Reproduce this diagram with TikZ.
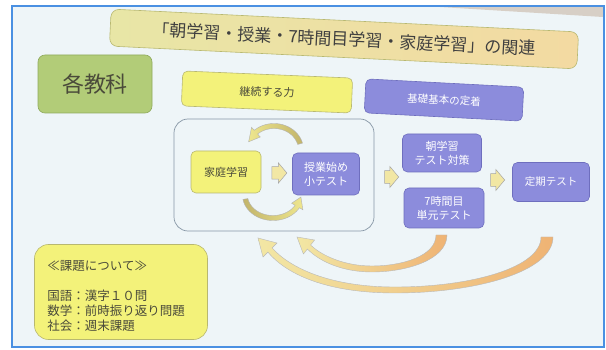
\documentclass[tikz,border=0pt]{standalone}
\usepackage{fontspec}
\setmainfont{Noto Sans CJK JP}
\usetikzlibrary{shapes.arrows,calc}
\definecolor{bgc}{HTML}{EEF5F8}
\definecolor{framec}{HTML}{4A90E2}
\definecolor{ylw}{HTML}{F3F27A}
\definecolor{ylwd}{HTML}{B8B870}
\definecolor{prp}{HTML}{8C8CDC}
\definecolor{prpd}{HTML}{6E6EBE}
\definecolor{grn}{HTML}{B2CC78}
\definecolor{grnd}{HTML}{8FAA5E}
\definecolor{ttlL}{HTML}{E8E6A6}
\definecolor{ttlR}{HTML}{F3DAA2}
\definecolor{txt}{HTML}{4A4A3A}
\definecolor{arrY}{HTML}{F2E7A4}
\definecolor{arrO}{HTML}{EFB374}
\definecolor{olvD}{HTML}{C2B46A}
\definecolor{olvL}{HTML}{EEE68E}
\definecolor{cycc}{HTML}{8797A6}
\newcommand\ArcArrow[8]{%
 \shadedraw[#8] plot[domain=#5:#6,samples=40] ({#1+(#3+2.5)*cos(\x)},{#2+(#4+2.5)*sin(\x)})
  -- ({#1+(#3+6.5)*cos(#6)},{#2+(#4+6.5)*sin(#6)})
  -- ({#1+#3*cos(#7)},{#2+#4*sin(#7)})
  -- ({#1+(#3-6.5)*cos(#6)},{#2+(#4-6.5)*sin(#6)})
  -- plot[domain=#6:#5,samples=40] ({#1+(#3-2.5)*cos(\x)},{#2+(#4-2.5)*sin(\x)})
  -- cycle;}
\begin{document}
\begin{tikzpicture}[x=1pt,y=-1pt,
  box/.style={rounded corners=5pt, draw, line width=0.6pt, align=center, inner sep=2pt},
  ybox/.style={box, fill=ylw, draw=ylwd, text=txt},
  pbox/.style={box, fill=prp, draw=prpd, text=white},
  blockarrow/.style={single arrow, draw=gray!70, fill=arrY, line width=0.5pt,
    minimum height=15pt, minimum width=20pt, single arrow head extend=4pt,
    single arrow tip angle=100, inner xsep=1pt, inner ysep=6pt},
  bigarrow/.style={left color=arrY, right color=arrO, draw=gray!55, line width=0.4pt},
  smallfont/.style={font=\fontsize{11}{14}\selectfont}
]
\useasboundingbox (0,0) rectangle (606,350);
\fill[white] (0,0) rectangle (606,350);
\fill[bgc] (12,6) rectangle (604,347);
\fill[gray!55!brown!50, opacity=0.7] (440,7) -- (603,7) -- (603,17) -- cycle;
\draw[framec, line width=1.5pt] (12,6) rectangle (604,347);

% title
\node[box, rotate=-2.8, left color=ttlL, right color=ttlR, draw=ylwd, text=black!75,
  rounded corners=8pt, minimum width=468pt, minimum height=37pt,
  font=\fontsize{17}{20}\selectfont] (title) at (344,39)
  {「朝学習・授業・7時間目学習・家庭学習」の関連};

\node[box, fill=grn, draw=grnd, text=txt, rounded corners=7pt, minimum width=114pt,
  minimum height=58pt, font=\fontsize{22}{26}\selectfont] (kyoka) at (95,84) {各教科};

\node[ybox, rotate=-2.4, minimum width=170pt, minimum height=35pt, smallfont] (keizoku) at (267,92) {継続する力};
\node[pbox, rotate=-3, minimum width=158pt, minimum height=34pt, font=\fontsize{10.5}{13}\selectfont] (kiso) at (444,100) {基礎基本の定着};

% cycle frame
\node[draw=cycc, line width=0.7pt, rounded corners=14pt, minimum width=200pt, minimum height=112pt] (cyc) at (274,175) {};

\node[ybox, minimum width=70pt, minimum height=42pt, smallfont] (katei) at (226,172) {家庭学習};
\node[pbox, minimum width=67pt, minimum height=42pt, smallfont] (jugyo) at (326,174) {授業始め\\小テスト};
\node[blockarrow] (a1) at ($(katei.east)!0.5!(jugyo.west)$) {};

\ArcArrow{274}{150}{27}{24}{345}{228}{200}{left color=olvL, right color=olvD, draw=gray!60, line width=0.4pt}
\ArcArrow{273}{195}{28}{23}{170}{30}{5}{left color=olvD, right color=olvL, draw=gray!60, line width=0.4pt}

\node[pbox, minimum width=79pt, minimum height=38pt, smallfont] (asa) at (442,153) {朝学習\\テスト対策};
\node[pbox, minimum width=80pt, minimum height=40pt, smallfont] (nana) at (444,208) {7時間目\\単元テスト};
\node[pbox, minimum width=77pt, minimum height=39pt, font=\fontsize{10.5}{13}\selectfont] (teiki) at (551,182) {定期テスト};

\node[blockarrow, minimum height=14pt, minimum width=21pt] (a2) at (389,177) {};
\node[blockarrow, minimum height=14pt, minimum width=21pt] (a3) at (495,180) {};

% big return arrows
\shadedraw[bigarrow] (541,237) .. controls (541,268) and (470,287) .. (395,287)
  .. controls (330,287) and (290,268) .. (272.1,247.9) -- (277,243) -- (258,238)
  -- (263,257) -- (267.9,252.1) .. controls (288,276) and (330,293) .. (395,293)
  .. controls (475,293) and (553,272) .. (553,237) -- cycle;
\shadedraw[bigarrow] (436,235) .. controls (436,256) and (402,266) .. (372,266)
  .. controls (345,266) and (322,256) .. (310.6,245) -- (314.6,240) -- (297,237)
  -- (303.4,254) -- (307.4,249) .. controls (321,263) and (345,272) .. (372,272)
  .. controls (406,272) and (447,260) .. (447,235) -- cycle;

% kadai box
\node[ybox, rounded corners=14pt, minimum width=173pt, minimum height=95pt] (kadai) at (121,292) {};
\node[anchor=west, align=left, inner sep=0pt, text=txt, font=\fontsize{12.5}{15}\selectfont] (kadaitext)
  at ($(kadai.west)+(13,4)$) {≪課題について≫\\[15pt]国語：漢字１０問\\数学：前時振り返り問題\\社会：週末課題};
\end{tikzpicture}
\end{document}
